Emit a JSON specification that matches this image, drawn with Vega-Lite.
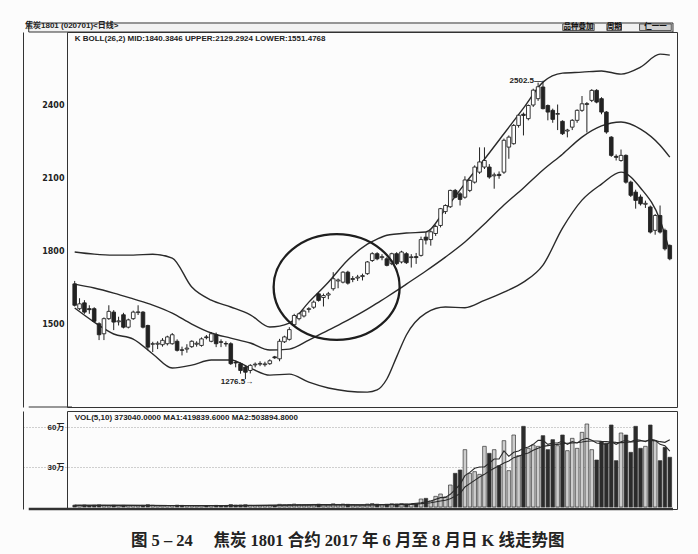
{
  "$schema": "https://vega.github.io/schema/vega-lite/v6.json",
  "autosize": {"type": "pad"},
  "padding": {"left": 22, "top": 21, "right": 21, "bottom": 5},
  "background": "#fcfcfc",
  "spacing": 2,
  "config": {
    "view": {"stroke": "#333", "strokeWidth": 1},
    "axisY": {
      "offset": 44,
      "tickSize": 0,
      "labelPadding": -41,
      "labelFont": "DejaVu Sans",
      "labelFontWeight": "bold",
      "labelFontSize": 8,
      "labelColor": "#222",
      "domainColor": "#333",
      "gridColor": "#8a8a8a",
      "gridDash": [1, 2],
      "gridWidth": 0.8,
      "title": null
    },
    "text": {"font": "Liberation Sans, Noto Sans CJK SC"}
  },
  "title": {
    "text": "图 5 – 24　 焦炭 1801 合约 2017 年 6 月至 8 月日 K 线走势图",
    "orient": "bottom",
    "anchor": "middle",
    "font": "Liberation Serif, Noto Sans CJK SC",
    "fontSize": 16.5,
    "fontWeight": "bold",
    "color": "#222",
    "offset": 22,
    "dx": -2
  },
  "datasets": {
    "k": [
      {"i": 0, "o": 1668, "h": 1680, "l": 1575, "c": 1580, "v": 14000},
      {"i": 1, "o": 1566, "h": 1609, "l": 1560, "c": 1586, "v": 12000},
      {"i": 2, "o": 1590, "h": 1601, "l": 1545, "c": 1552, "v": 15000},
      {"i": 3, "o": 1566, "h": 1580, "l": 1545, "c": 1562, "v": 11000},
      {"i": 4, "o": 1566, "h": 1572, "l": 1510, "c": 1514, "v": 13000},
      {"i": 5, "o": 1504, "h": 1510, "l": 1437, "c": 1459, "v": 16000},
      {"i": 6, "o": 1463, "h": 1530, "l": 1437, "c": 1525, "v": 12000},
      {"i": 7, "o": 1525, "h": 1580, "l": 1520, "c": 1555, "v": 10000},
      {"i": 8, "o": 1552, "h": 1560, "l": 1478, "c": 1511, "v": 13000},
      {"i": 9, "o": 1512, "h": 1533, "l": 1497, "c": 1516, "v": 11000},
      {"i": 10, "o": 1541, "h": 1549, "l": 1485, "c": 1490, "v": 12000},
      {"i": 11, "o": 1490, "h": 1525, "l": 1485, "c": 1520, "v": 10000},
      {"i": 12, "o": 1525, "h": 1558, "l": 1520, "c": 1552, "v": 11000},
      {"i": 13, "o": 1550, "h": 1580, "l": 1540, "c": 1553, "v": 9000},
      {"i": 14, "o": 1552, "h": 1556, "l": 1485, "c": 1490, "v": 12000},
      {"i": 15, "o": 1497, "h": 1500, "l": 1395, "c": 1408, "v": 17000},
      {"i": 16, "o": 1420, "h": 1430, "l": 1388, "c": 1422, "v": 13000},
      {"i": 17, "o": 1420, "h": 1432, "l": 1400, "c": 1424, "v": 10000},
      {"i": 18, "o": 1418, "h": 1445, "l": 1410, "c": 1436, "v": 9000},
      {"i": 19, "o": 1422, "h": 1455, "l": 1415, "c": 1450, "v": 11000},
      {"i": 20, "o": 1422, "h": 1466, "l": 1418, "c": 1459, "v": 10000},
      {"i": 21, "o": 1432, "h": 1440, "l": 1390, "c": 1395, "v": 14000},
      {"i": 22, "o": 1397, "h": 1410, "l": 1374, "c": 1395, "v": 12000},
      {"i": 23, "o": 1400, "h": 1420, "l": 1385, "c": 1404, "v": 10000},
      {"i": 24, "o": 1410, "h": 1436, "l": 1405, "c": 1432, "v": 9000},
      {"i": 25, "o": 1420, "h": 1432, "l": 1410, "c": 1424, "v": 8000},
      {"i": 26, "o": 1415, "h": 1448, "l": 1410, "c": 1442, "v": 10000},
      {"i": 27, "o": 1450, "h": 1458, "l": 1440, "c": 1447, "v": 9000},
      {"i": 28, "o": 1432, "h": 1470, "l": 1428, "c": 1463, "v": 11000},
      {"i": 29, "o": 1459, "h": 1468, "l": 1408, "c": 1422, "v": 12000},
      {"i": 30, "o": 1430, "h": 1440, "l": 1408, "c": 1428, "v": 9000},
      {"i": 31, "o": 1423, "h": 1432, "l": 1410, "c": 1421, "v": 10000},
      {"i": 32, "o": 1422, "h": 1428, "l": 1335, "c": 1340, "v": 18000},
      {"i": 33, "o": 1345, "h": 1352, "l": 1325, "c": 1343, "v": 14000},
      {"i": 34, "o": 1340, "h": 1345, "l": 1299, "c": 1312, "v": 15000},
      {"i": 35, "o": 1326, "h": 1330, "l": 1276.5, "c": 1305, "v": 17000},
      {"i": 36, "o": 1312, "h": 1338, "l": 1300, "c": 1333, "v": 12000},
      {"i": 37, "o": 1335, "h": 1345, "l": 1325, "c": 1338, "v": 10000},
      {"i": 38, "o": 1338, "h": 1350, "l": 1330, "c": 1341, "v": 9000},
      {"i": 39, "o": 1336, "h": 1348, "l": 1328, "c": 1339, "v": 11000},
      {"i": 40, "o": 1340, "h": 1358, "l": 1335, "c": 1352, "v": 12000},
      {"i": 41, "o": 1368, "h": 1372, "l": 1360, "c": 1364, "v": 10000},
      {"i": 42, "o": 1360, "h": 1442, "l": 1350, "c": 1432, "v": 20000},
      {"i": 43, "o": 1430, "h": 1455, "l": 1425, "c": 1450, "v": 16000},
      {"i": 44, "o": 1440, "h": 1490, "l": 1435, "c": 1480, "v": 18000},
      {"i": 45, "o": 1500, "h": 1545, "l": 1495, "c": 1538, "v": 22000},
      {"i": 46, "o": 1525, "h": 1550, "l": 1518, "c": 1545, "v": 17000},
      {"i": 47, "o": 1536, "h": 1562, "l": 1530, "c": 1556, "v": 15000},
      {"i": 48, "o": 1563, "h": 1572, "l": 1550, "c": 1566, "v": 14000},
      {"i": 49, "o": 1572, "h": 1600, "l": 1565, "c": 1593, "v": 19000},
      {"i": 50, "o": 1627, "h": 1632, "l": 1595, "c": 1600, "v": 21000},
      {"i": 51, "o": 1612, "h": 1628, "l": 1575, "c": 1620, "v": 18000},
      {"i": 52, "o": 1622, "h": 1635, "l": 1605, "c": 1627, "v": 16000},
      {"i": 53, "o": 1648, "h": 1716, "l": 1640, "c": 1689, "v": 24000},
      {"i": 54, "o": 1680, "h": 1690, "l": 1650, "c": 1684, "v": 19000},
      {"i": 55, "o": 1675, "h": 1720, "l": 1670, "c": 1716, "v": 22000},
      {"i": 56, "o": 1716, "h": 1722, "l": 1665, "c": 1671, "v": 20000},
      {"i": 57, "o": 1686, "h": 1700, "l": 1675, "c": 1690, "v": 16000},
      {"i": 58, "o": 1692, "h": 1705, "l": 1680, "c": 1696, "v": 15000},
      {"i": 59, "o": 1698, "h": 1710, "l": 1682, "c": 1702, "v": 14000},
      {"i": 60, "o": 1710, "h": 1762, "l": 1705, "c": 1758, "v": 22000},
      {"i": 61, "o": 1764, "h": 1798, "l": 1758, "c": 1792, "v": 26000},
      {"i": 62, "o": 1792, "h": 1798, "l": 1765, "c": 1771, "v": 21000},
      {"i": 63, "o": 1776, "h": 1790, "l": 1765, "c": 1780, "v": 18000},
      {"i": 64, "o": 1771, "h": 1778, "l": 1740, "c": 1744, "v": 20000},
      {"i": 65, "o": 1751, "h": 1796, "l": 1745, "c": 1792, "v": 24000},
      {"i": 66, "o": 1792, "h": 1798, "l": 1745, "c": 1751, "v": 22000},
      {"i": 67, "o": 1758, "h": 1804, "l": 1752, "c": 1799, "v": 25000},
      {"i": 68, "o": 1792, "h": 1798, "l": 1750, "c": 1755, "v": 21000},
      {"i": 69, "o": 1776, "h": 1790, "l": 1735, "c": 1779, "v": 22500},
      {"i": 70, "o": 1780, "h": 1795, "l": 1750, "c": 1776, "v": 22500},
      {"i": 71, "o": 1785, "h": 1862, "l": 1780, "c": 1850, "v": 60000},
      {"i": 72, "o": 1860, "h": 1880, "l": 1830, "c": 1848, "v": 65000},
      {"i": 73, "o": 1850, "h": 1888, "l": 1825, "c": 1882, "v": 45000},
      {"i": 74, "o": 1875, "h": 1910, "l": 1865, "c": 1904, "v": 80000},
      {"i": 75, "o": 1908, "h": 1980, "l": 1900, "c": 1977, "v": 97500},
      {"i": 76, "o": 1965, "h": 1995, "l": 1955, "c": 1990, "v": 75000},
      {"i": 77, "o": 1985, "h": 2055, "l": 1980, "c": 2052, "v": 165000},
      {"i": 78, "o": 2052, "h": 2058, "l": 2020, "c": 2024, "v": 252500},
      {"i": 79, "o": 2038, "h": 2045, "l": 1990, "c": 2015, "v": 277500},
      {"i": 80, "o": 2024, "h": 2110, "l": 2018, "c": 2095, "v": 430000},
      {"i": 81, "o": 2052, "h": 2098, "l": 2045, "c": 2093, "v": 252500},
      {"i": 82, "o": 2086, "h": 2155, "l": 2080, "c": 2148, "v": 265000},
      {"i": 83, "o": 2127, "h": 2229, "l": 2120, "c": 2169, "v": 245000},
      {"i": 84, "o": 2148, "h": 2229, "l": 2140, "c": 2175, "v": 455000},
      {"i": 85, "o": 2148, "h": 2160, "l": 2100, "c": 2107, "v": 402500},
      {"i": 86, "o": 2112, "h": 2125, "l": 2059, "c": 2116, "v": 430000},
      {"i": 87, "o": 2118, "h": 2130, "l": 2100, "c": 2113, "v": 310000},
      {"i": 88, "o": 2127, "h": 2265, "l": 2120, "c": 2258, "v": 497500},
      {"i": 89, "o": 2230, "h": 2278, "l": 2182, "c": 2271, "v": 272500},
      {"i": 90, "o": 2244, "h": 2325, "l": 2240, "c": 2319, "v": 540000},
      {"i": 91, "o": 2319, "h": 2365, "l": 2310, "c": 2361, "v": 385000},
      {"i": 92, "o": 2365, "h": 2372, "l": 2278, "c": 2360, "v": 605000},
      {"i": 93, "o": 2347, "h": 2405, "l": 2340, "c": 2401, "v": 440000},
      {"i": 94, "o": 2403, "h": 2470, "l": 2395, "c": 2464, "v": 465000},
      {"i": 95, "o": 2429, "h": 2495, "l": 2420, "c": 2478, "v": 455000},
      {"i": 96, "o": 2477, "h": 2502.5, "l": 2385, "c": 2388, "v": 535000},
      {"i": 97, "o": 2401, "h": 2405, "l": 2340, "c": 2374, "v": 430000},
      {"i": 98, "o": 2381, "h": 2388, "l": 2330, "c": 2344, "v": 505000},
      {"i": 99, "o": 2365, "h": 2405, "l": 2300, "c": 2368, "v": 460000},
      {"i": 100, "o": 2336, "h": 2340, "l": 2280, "c": 2285, "v": 540000},
      {"i": 101, "o": 2296, "h": 2305, "l": 2270, "c": 2300, "v": 422500},
      {"i": 102, "o": 2312, "h": 2345, "l": 2300, "c": 2340, "v": 515000},
      {"i": 103, "o": 2340, "h": 2385, "l": 2330, "c": 2381, "v": 440000},
      {"i": 104, "o": 2381, "h": 2440, "l": 2375, "c": 2408, "v": 560000},
      {"i": 105, "o": 2405, "h": 2415, "l": 2290, "c": 2409, "v": 622500},
      {"i": 106, "o": 2422, "h": 2468, "l": 2415, "c": 2463, "v": 430000},
      {"i": 107, "o": 2463, "h": 2468, "l": 2410, "c": 2415, "v": 352500},
      {"i": 108, "o": 2429, "h": 2435, "l": 2365, "c": 2374, "v": 490000},
      {"i": 109, "o": 2374, "h": 2378, "l": 2285, "c": 2292, "v": 477500},
      {"i": 110, "o": 2271, "h": 2275, "l": 2190, "c": 2196, "v": 615000},
      {"i": 111, "o": 2192, "h": 2200, "l": 2175, "c": 2188, "v": 347500},
      {"i": 112, "o": 2175, "h": 2220, "l": 2170, "c": 2196, "v": 555000},
      {"i": 113, "o": 2196, "h": 2200, "l": 2080, "c": 2086, "v": 540000},
      {"i": 114, "o": 2086, "h": 2092, "l": 2025, "c": 2032, "v": 410000},
      {"i": 115, "o": 2045, "h": 2055, "l": 1977, "c": 2011, "v": 605000},
      {"i": 116, "o": 2025, "h": 2035, "l": 1990, "c": 1997, "v": 440000},
      {"i": 117, "o": 1995, "h": 2010, "l": 1980, "c": 1999, "v": 455000},
      {"i": 118, "o": 1984, "h": 1990, "l": 1875, "c": 1881, "v": 615000},
      {"i": 119, "o": 1888, "h": 1955, "l": 1870, "c": 1949, "v": 497500},
      {"i": 120, "o": 1949, "h": 1990, "l": 1875, "c": 1881, "v": 347500},
      {"i": 121, "o": 1888, "h": 1895, "l": 1805, "c": 1812, "v": 447500},
      {"i": 122, "o": 1826, "h": 1830, "l": 1765, "c": 1771, "v": 373040}
    ],
    "boll": [
      {"i": 0, "up": 1799, "mid": 1667, "lo": 1569},
      {"i": 4, "up": 1790, "mid": 1651, "lo": 1511},
      {"i": 8, "up": 1786, "mid": 1630, "lo": 1462},
      {"i": 12, "up": 1786, "mid": 1606, "lo": 1441},
      {"i": 16, "up": 1790, "mid": 1581, "lo": 1380},
      {"i": 20, "up": 1774, "mid": 1548, "lo": 1322},
      {"i": 24, "up": 1655, "mid": 1503, "lo": 1334},
      {"i": 28, "up": 1601, "mid": 1466, "lo": 1355},
      {"i": 32, "up": 1573, "mid": 1445, "lo": 1355},
      {"i": 36, "up": 1541, "mid": 1425, "lo": 1322},
      {"i": 40, "up": 1491, "mid": 1396, "lo": 1293},
      {"i": 44, "up": 1507, "mid": 1400, "lo": 1297},
      {"i": 48, "up": 1593, "mid": 1437, "lo": 1264},
      {"i": 52, "up": 1675, "mid": 1478, "lo": 1240},
      {"i": 56, "up": 1766, "mid": 1519, "lo": 1227},
      {"i": 60, "up": 1831, "mid": 1564, "lo": 1223},
      {"i": 62, "up": 1852, "mid": 1589, "lo": 1232},
      {"i": 64, "up": 1868, "mid": 1614, "lo": 1277},
      {"i": 66, "up": 1873, "mid": 1640, "lo": 1368},
      {"i": 68, "up": 1877, "mid": 1667, "lo": 1458},
      {"i": 72, "up": 1881, "mid": 1721, "lo": 1548},
      {"i": 76, "up": 1975, "mid": 1778, "lo": 1573},
      {"i": 80, "up": 2080, "mid": 1840, "lo": 1570},
      {"i": 84, "up": 2180, "mid": 1914, "lo": 1600},
      {"i": 88, "up": 2285, "mid": 1992, "lo": 1634},
      {"i": 92, "up": 2390, "mid": 2062, "lo": 1675},
      {"i": 96, "up": 2497, "mid": 2136, "lo": 1745},
      {"i": 100, "up": 2534, "mid": 2201, "lo": 1897},
      {"i": 104, "up": 2538, "mid": 2271, "lo": 2012},
      {"i": 108, "up": 2543, "mid": 2317, "lo": 2078},
      {"i": 112, "up": 2530, "mid": 2333, "lo": 2127},
      {"i": 116, "up": 2559, "mid": 2304, "lo": 2062},
      {"i": 120, "up": 2612, "mid": 2238, "lo": 1930},
      {"i": 122, "up": 2608, "mid": 2189, "lo": 1799}
    ],
    "vma": [
      {"i": 0, "ma5": 13000, "ma10": 13000},
      {"i": 10, "ma5": 12000, "ma10": 12000},
      {"i": 20, "ma5": 11000, "ma10": 11500},
      {"i": 30, "ma5": 11000, "ma10": 10500},
      {"i": 40, "ma5": 13000, "ma10": 12000},
      {"i": 50, "ma5": 18000, "ma10": 16000},
      {"i": 60, "ma5": 16000, "ma10": 15000},
      {"i": 66, "ma5": 20000, "ma10": 17000},
      {"i": 69, "ma5": 24000, "ma10": 20000},
      {"i": 71, "ma5": 32000, "ma10": 25000},
      {"i": 73, "ma5": 45000, "ma10": 32000},
      {"i": 75, "ma5": 70000, "ma10": 45000},
      {"i": 76, "ma5": 72000, "ma10": 50000},
      {"i": 77, "ma5": 95000, "ma10": 62000},
      {"i": 78, "ma5": 130000, "ma10": 80000},
      {"i": 79, "ma5": 170000, "ma10": 100000},
      {"i": 80, "ma5": 235000, "ma10": 150000},
      {"i": 81, "ma5": 260000, "ma10": 175000},
      {"i": 82, "ma5": 290000, "ma10": 200000},
      {"i": 83, "ma5": 300000, "ma10": 225000},
      {"i": 84, "ma5": 300000, "ma10": 245000},
      {"i": 85, "ma5": 330000, "ma10": 270000},
      {"i": 86, "ma5": 360000, "ma10": 290000},
      {"i": 87, "ma5": 360000, "ma10": 310000},
      {"i": 88, "ma5": 420000, "ma10": 330000},
      {"i": 89, "ma5": 380000, "ma10": 345000},
      {"i": 90, "ma5": 410000, "ma10": 370000},
      {"i": 91, "ma5": 420000, "ma10": 380000},
      {"i": 92, "ma5": 440000, "ma10": 395000},
      {"i": 93, "ma5": 450000, "ma10": 405000},
      {"i": 94, "ma5": 470000, "ma10": 425000},
      {"i": 95, "ma5": 500000, "ma10": 440000},
      {"i": 96, "ma5": 500000, "ma10": 455000},
      {"i": 97, "ma5": 470000, "ma10": 460000},
      {"i": 98, "ma5": 480000, "ma10": 465000},
      {"i": 99, "ma5": 480000, "ma10": 470000},
      {"i": 100, "ma5": 495000, "ma10": 475000},
      {"i": 101, "ma5": 470000, "ma10": 478000},
      {"i": 102, "ma5": 490000, "ma10": 480000},
      {"i": 103, "ma5": 480000, "ma10": 482000},
      {"i": 104, "ma5": 505000, "ma10": 487000},
      {"i": 105, "ma5": 515000, "ma10": 493000},
      {"i": 106, "ma5": 500000, "ma10": 495000},
      {"i": 107, "ma5": 480000, "ma10": 495000},
      {"i": 108, "ma5": 475000, "ma10": 492000},
      {"i": 109, "ma5": 470000, "ma10": 490000},
      {"i": 110, "ma5": 490000, "ma10": 488000},
      {"i": 111, "ma5": 470000, "ma10": 485000},
      {"i": 112, "ma5": 490000, "ma10": 483000},
      {"i": 113, "ma5": 500000, "ma10": 485000},
      {"i": 114, "ma5": 490000, "ma10": 488000},
      {"i": 115, "ma5": 505000, "ma10": 490000},
      {"i": 116, "ma5": 500000, "ma10": 495000},
      {"i": 117, "ma5": 490000, "ma10": 495000},
      {"i": 118, "ma5": 510000, "ma10": 500000},
      {"i": 119, "ma5": 500000, "ma10": 498000},
      {"i": 120, "ma5": 470000, "ma10": 490000},
      {"i": 121, "ma5": 460000, "ma10": 485000},
      {"i": 122, "ma5": 419840, "ma10": 503895}
    ]
  },
  "vconcat": [
    {
      "width": 610,
      "height": 375,
      "title": {
        "text": "焦炭1801 (020701)<日线>",
        "anchor": "start",
        "frame": "group",
        "dx": -42,
        "offset": -8,
        "font": "Liberation Sans, Noto Sans CJK SC",
        "fontSize": 8,
        "fontWeight": "bold",
        "color": "#222"
      },
      "layer": [
        {
          "data": {"values": [{}]},
          "mark": {"type": "rect", "fill": "#f2f2f2", "stroke": "#333", "strokeWidth": 1},
          "encoding": {
            "x": {"datum": -9.42, "type": "quantitative", "scale": {"domain": [-0.55, 122.45], "nice": false, "zero": false}, "axis": null},
            "x2": {"datum": 122.65},
            "y": {"datum": 2703, "type": "quantitative", "scale": {"domain": [1162, 2703], "nice": false, "zero": false}, "title": null},
            "y2": {"datum": 2740}
          }
        },
        {
          "data": {"values": [{}]},
          "mark": {"type": "rect", "fill": "#cfcfcf", "stroke": "#333", "strokeWidth": 0.8},
          "encoding": {
            "x": {"datum": 100.05, "type": "quantitative", "scale": {"domain": [-0.55, 122.45], "nice": false, "zero": false}, "axis": null},
            "x2": {"datum": 106.5},
            "y": {"datum": 2709, "type": "quantitative", "scale": {"domain": [1162, 2703], "nice": false, "zero": false}, "title": null},
            "y2": {"datum": 2736}
          }
        },
        {
          "data": {"values": [{}]},
          "mark": {"type": "rect", "fill": "#cfcfcf", "stroke": "#333", "strokeWidth": 0.8},
          "encoding": {
            "x": {"datum": 109.1, "type": "quantitative", "scale": {"domain": [-0.55, 122.45], "nice": false, "zero": false}, "axis": null},
            "x2": {"datum": 112.1},
            "y": {"datum": 2709, "type": "quantitative", "scale": {"domain": [1162, 2703], "nice": false, "zero": false}, "title": null},
            "y2": {"datum": 2736}
          }
        },
        {
          "data": {"values": [{}]},
          "mark": {"type": "rect", "fill": "#cfcfcf", "stroke": "#333", "strokeWidth": 0.8},
          "encoding": {
            "x": {"datum": 115.8, "type": "quantitative", "scale": {"domain": [-0.55, 122.45], "nice": false, "zero": false}, "axis": null},
            "x2": {"datum": 122.3},
            "y": {"datum": 2709, "type": "quantitative", "scale": {"domain": [1162, 2703], "nice": false, "zero": false}, "title": null},
            "y2": {"datum": 2736}
          }
        },
        {
          "data": {"values": [{}]},
          "mark": {"type": "text", "align": "center", "baseline": "middle", "fontSize": 7.5, "fontWeight": "bold", "color": "#111"},
          "encoding": {
            "x": {"datum": 103.27, "type": "quantitative", "scale": {"domain": [-0.55, 122.45], "nice": false, "zero": false}, "axis": null},
            "y": {"datum": 2722, "type": "quantitative", "scale": {"domain": [1162, 2703], "nice": false, "zero": false}, "title": null},
            "text": {"value": "品种叠加"}
          }
        },
        {
          "data": {"values": [{}]},
          "mark": {"type": "text", "align": "center", "baseline": "middle", "fontSize": 7.5, "fontWeight": "bold", "color": "#111"},
          "encoding": {
            "x": {"datum": 110.6, "type": "quantitative", "scale": {"domain": [-0.55, 122.45], "nice": false, "zero": false}, "axis": null},
            "y": {"datum": 2722, "type": "quantitative", "scale": {"domain": [1162, 2703], "nice": false, "zero": false}, "title": null},
            "text": {"value": "周期"}
          }
        },
        {
          "data": {"values": [{}]},
          "mark": {"type": "text", "align": "center", "baseline": "middle", "fontSize": 7.5, "fontWeight": "bold", "color": "#111"},
          "encoding": {
            "x": {"datum": 119.05, "type": "quantitative", "scale": {"domain": [-0.55, 122.45], "nice": false, "zero": false}, "axis": null},
            "y": {"datum": 2722, "type": "quantitative", "scale": {"domain": [1162, 2703], "nice": false, "zero": false}, "title": null},
            "text": {"value": "仁一一"}
          }
        },
        {
          "data": {"values": [{}]},
          "mark": {"type": "rule", "color": "#333", "strokeWidth": 1},
          "encoding": {
            "x": {"datum": -9.42, "type": "quantitative", "scale": {"domain": [-0.55, 122.45], "nice": false, "zero": false}, "axis": null},
            "x2": {"datum": -0.55},
            "y": {"datum": 1162, "type": "quantitative", "scale": {"domain": [1162, 2703], "nice": false, "zero": false}, "title": null}
          }
        },
        {
          "data": {"name": "boll"},
          "mark": {"type": "line", "color": "#2a2a2a", "strokeWidth": 1.4, "interpolate": "monotone"},
          "encoding": {
            "x": {"field": "i", "type": "quantitative", "scale": {"domain": [-0.55, 122.45], "nice": false, "zero": false}, "axis": null},
            "y": {"field": "up", "type": "quantitative", "scale": {"domain": [1162, 2703], "nice": false, "zero": false}, "title": null}
          }
        },
        {
          "data": {"name": "boll"},
          "mark": {"type": "line", "color": "#2a2a2a", "strokeWidth": 1.4, "interpolate": "monotone"},
          "encoding": {
            "x": {"field": "i", "type": "quantitative", "scale": {"domain": [-0.55, 122.45], "nice": false, "zero": false}, "axis": null},
            "y": {"field": "mid", "type": "quantitative", "scale": {"domain": [1162, 2703], "nice": false, "zero": false}, "title": null}
          }
        },
        {
          "data": {"name": "boll"},
          "mark": {"type": "line", "color": "#2a2a2a", "strokeWidth": 1.4, "interpolate": "monotone"},
          "encoding": {
            "x": {"field": "i", "type": "quantitative", "scale": {"domain": [-0.55, 122.45], "nice": false, "zero": false}, "axis": null},
            "y": {"field": "lo", "type": "quantitative", "scale": {"domain": [1162, 2703], "nice": false, "zero": false}, "title": null}
          }
        },
        {
          "data": {"name": "k"},
          "mark": {"type": "rule", "color": "#222", "strokeWidth": 1},
          "encoding": {
            "x": {"field": "i", "type": "quantitative", "scale": {"domain": [-0.55, 122.45], "nice": false, "zero": false}, "axis": null},
            "y": {"field": "l", "type": "quantitative", "scale": {"domain": [1162, 2703], "nice": false, "zero": false}, "title": null,
                  "axis": {"values": [1500, 1800, 2100, 2400], "format": "d"}},
            "y2": {"field": "h"}
          }
        },
        {
          "data": {"name": "k"},
          "mark": {"type": "bar", "width": 3.6, "stroke": "#222", "strokeWidth": 0.9},
          "encoding": {
            "x": {"field": "i", "type": "quantitative", "scale": {"domain": [-0.55, 122.45], "nice": false, "zero": false}, "axis": null},
            "y": {"field": "o", "type": "quantitative", "scale": {"domain": [1162, 2703], "nice": false, "zero": false}, "title": null},
            "y2": {"field": "c"},
            "fill": {"condition": {"test": "datum.c < datum.o", "value": "#222"}, "value": "#ffffff"}
          }
        },
        {
          "data": {"values": [{}]},
          "mark": {"type": "text", "align": "right", "baseline": "middle", "fontSize": 8, "fontWeight": "bold", "color": "#222", "dx": 1},
          "encoding": {
            "x": {"datum": 95.6, "type": "quantitative", "scale": {"domain": [-0.55, 122.45], "nice": false, "zero": false}, "axis": null},
            "y": {"datum": 2502.5, "type": "quantitative", "scale": {"domain": [1162, 2703], "nice": false, "zero": false}, "title": null},
            "text": {"value": "2502.5—"}
          }
        },
        {
          "data": {"values": [{}]},
          "mark": {"type": "text", "align": "right", "baseline": "middle", "fontSize": 8, "fontWeight": "bold", "color": "#222", "dy": 3},
          "encoding": {
            "x": {"datum": 36.6, "type": "quantitative", "scale": {"domain": [-0.55, 122.45], "nice": false, "zero": false}, "axis": null},
            "y": {"datum": 1276.5, "type": "quantitative", "scale": {"domain": [1162, 2703], "nice": false, "zero": false}, "title": null},
            "text": {"value": "1276.5→"}
          }
        },
        {
          "data": {"values": [{}]},
          "mark": {"type": "point", "filled": false, "stroke": "#1e1e1e", "strokeWidth": 2.3, "opacity": 1,
                   "shape": "M-1,0A1,0.84 0 1,1 1,0A1,0.84 0 1,1 -1,0Z", "size": 15876},
          "encoding": {
            "x": {"datum": 53.7, "type": "quantitative", "scale": {"domain": [-0.55, 122.45], "nice": false, "zero": false}, "axis": null},
            "y": {"datum": 1655, "type": "quantitative", "scale": {"domain": [1162, 2703], "nice": false, "zero": false}, "title": null}
          }
        },
        {
          "data": {"values": [{}]},
          "mark": {"type": "text", "align": "left", "baseline": "top", "fontSize": 8, "fontWeight": "bold", "color": "#222", "dx": 1, "dy": 3},
          "encoding": {
            "x": {"datum": -0.2, "type": "quantitative", "scale": {"domain": [-0.55, 122.45], "nice": false, "zero": false}, "axis": null},
            "y": {"datum": 2703, "type": "quantitative", "scale": {"domain": [1162, 2703], "nice": false, "zero": false}, "title": null},
            "text": {"value": "K  BOLL(26,2) MID:1840.3846 UPPER:2129.2924 LOWER:1551.4768"}
          }
        }
      ]
    },
    {
      "width": 610,
      "height": 98,
      "layer": [
        {
          "data": {"name": "k"},
          "mark": {"type": "bar", "width": 3.6, "stroke": "#333", "strokeWidth": 0.7},
          "encoding": {
            "x": {"field": "i", "type": "quantitative", "scale": {"domain": [-0.55, 122.45], "nice": false, "zero": false}, "axis": null},
            "y": {"field": "v", "type": "quantitative", "scale": {"domain": [-15000, 720000], "nice": false, "zero": false}, "title": null,
                  "axis": {"values": [300000, 600000], "labelExpr": "datum.value / 10000 + '万'", "labelFont": "Liberation Sans, Noto Sans CJK SC"}},
            "y2": {"datum": 0},
            "fill": {"condition": {"test": "datum.c < datum.o", "value": "#2b2b2b"}, "value": "#cdcdcd"}
          }
        },
        {
          "data": {"name": "vma"},
          "mark": {"type": "line", "color": "#2a2a2a", "strokeWidth": 1.1},
          "encoding": {
            "x": {"field": "i", "type": "quantitative", "scale": {"domain": [-0.55, 122.45], "nice": false, "zero": false}, "axis": null},
            "y": {"field": "ma5", "type": "quantitative", "scale": {"domain": [-15000, 720000], "nice": false, "zero": false}, "title": null}
          }
        },
        {
          "data": {"name": "vma"},
          "mark": {"type": "line", "color": "#2a2a2a", "strokeWidth": 1.1},
          "encoding": {
            "x": {"field": "i", "type": "quantitative", "scale": {"domain": [-0.55, 122.45], "nice": false, "zero": false}, "axis": null},
            "y": {"field": "ma10", "type": "quantitative", "scale": {"domain": [-15000, 720000], "nice": false, "zero": false}, "title": null}
          }
        },
        {
          "data": {"values": [{}]},
          "mark": {"type": "text", "align": "left", "baseline": "top", "fontSize": 8, "fontWeight": "bold", "color": "#222", "dx": 1, "dy": 3},
          "encoding": {
            "x": {"datum": -0.2, "type": "quantitative", "scale": {"domain": [-0.55, 122.45], "nice": false, "zero": false}, "axis": null},
            "y": {"datum": 720000, "type": "quantitative", "scale": {"domain": [-15000, 720000], "nice": false, "zero": false}, "title": null},
            "text": {"value": "VOL(5,10) 373040.0000 MA1:419839.6000 MA2:503894.8000"}
          }
        },
        {
          "data": {"values": [{}]},
          "mark": {"type": "rule", "color": "#333", "strokeWidth": 2.5},
          "encoding": {
            "x": {"datum": -9.42, "type": "quantitative", "scale": {"domain": [-0.55, 122.45], "nice": false, "zero": false}, "axis": null},
            "x2": {"datum": 122.65},
            "y": {"datum": -15000, "type": "quantitative", "scale": {"domain": [-15000, 720000], "nice": false, "zero": false}, "title": null}
          }
        }
      ]
    }
  ]
}
